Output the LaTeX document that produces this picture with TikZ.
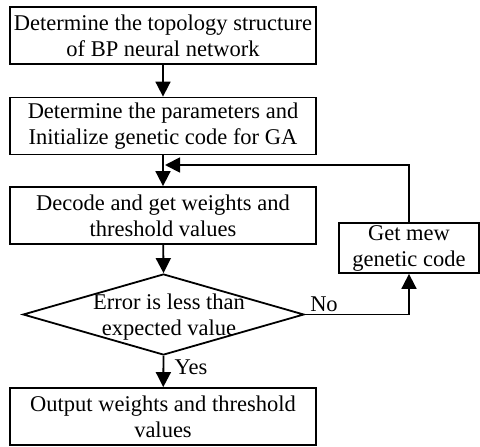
\documentclass[tikz,border=0pt]{standalone}
\usepackage{fontspec}
\setmainfont{Liberation Serif}
\usetikzlibrary{arrows.meta,shapes.geometric}
\begin{document}
\begin{tikzpicture}[x=1pt,y=-1pt,
  txt/.style={font=\fontsize{22.5}{26}\selectfont},
  stepbox/.style={draw,line width=1.8pt,minimum width=306pt,minimum height=57pt,align=center,inner sep=0pt,txt},
  sidebox/.style={draw,line width=1.8pt,minimum width=140pt,minimum height=50pt,align=center,inner sep=0pt,txt},
  decision/.style={draw,diamond,line width=1.8pt,minimum width=281pt,minimum height=81pt,inner sep=0pt},
  arr/.style={line width=1.8pt,-{Triangle[width=15pt,length=15pt]}}]
\useasboundingbox (0,0) rectangle (480,447);
\node[stepbox] (b1) at (163,35.5) {Determine the topology structure\\of BP neural network};
\node[stepbox] (b2) at (163,126) {Determine the parameters and\\Initialize genetic code for GA};
\node[stepbox] (b3) at (163,215.5) {Decode and get weights and\\threshold values};
\node[decision] (dia) at (163.5,314.5) {};
\node[txt,align=center,inner sep=0pt] (diat) at (169,317) {Error is less than\\expected value};
\node[stepbox] (b4) at (163,416.5) {Output weights and threshold\\values};
\node[sidebox] (side) at (409,248) {Get mew\\genetic code};
\coordinate (fb) at (165,165);
\node[txt,inner sep=0pt] (no) at (324,304) {No};
\node[txt,inner sep=0pt] (yes) at (191,367) {Yes};
\draw[arr] (b1) -- (b2);
\draw[arr] (b2) -- (b3);
\draw[arr] (b3) -- (dia.north);
\draw[arr] (dia.south) -- (b4);
\draw[arr] (dia.east) -| (side.south);
\draw[arr] (side.north) |- (fb);
\end{tikzpicture}
\end{document}
